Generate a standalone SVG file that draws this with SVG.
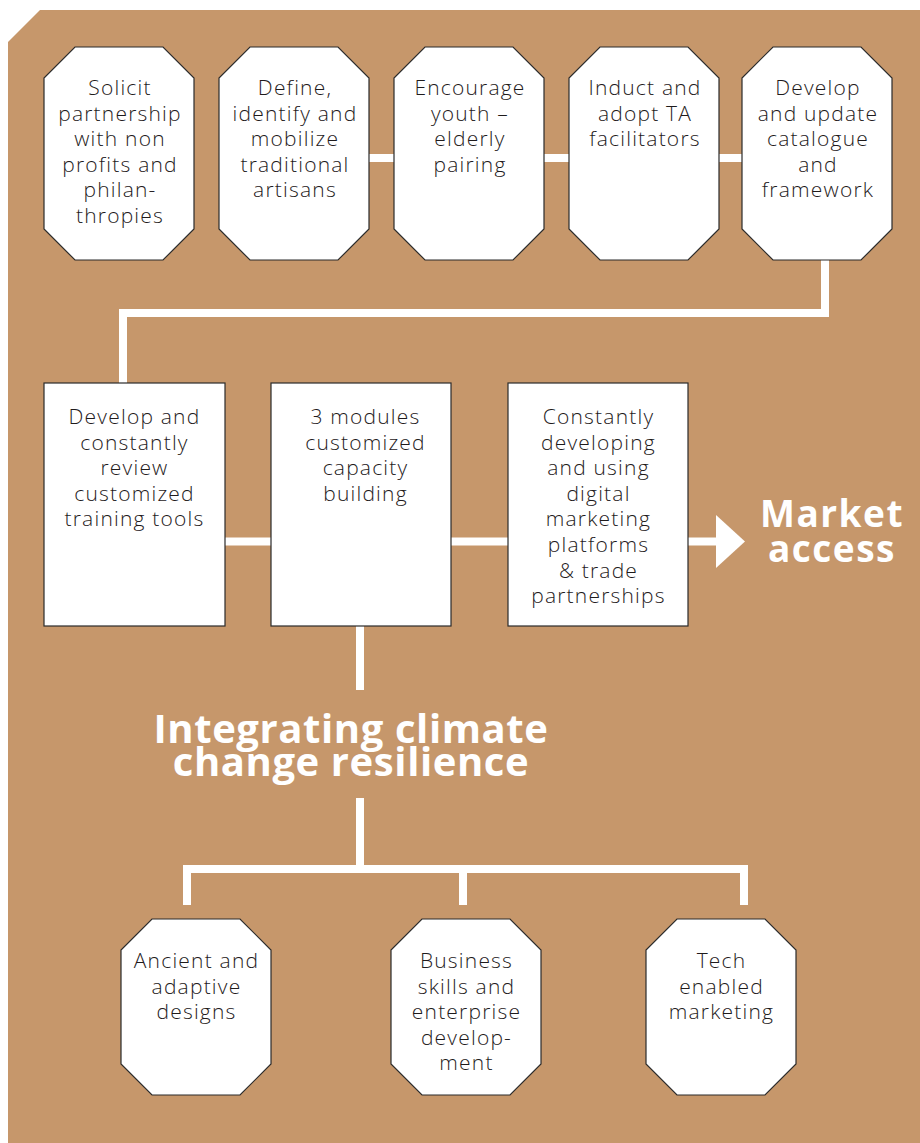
<svg xmlns="http://www.w3.org/2000/svg" width="920" height="1143" viewBox="0 0 920 1143">
<style>
.bg{fill:#C6976B}
.node{fill:#ffffff;stroke:#2b2b2b;stroke-width:1.2}
.t{font-family:"Open Sans","Liberation Sans",sans-serif;font-weight:300;font-size:21px;fill:#1f1b1c;text-anchor:middle;letter-spacing:1.2px}
.big{font-family:"Open Sans","Liberation Sans",sans-serif;font-weight:bold;fill:#ffffff;text-anchor:middle}
.c{stroke:#ffffff;stroke-width:8;fill:none;stroke-linecap:butt;stroke-linejoin:miter}
</style>
<rect width="920" height="1143" fill="#ffffff"/>
<polygon class="bg" points="8,42 40,10 920,10 920,1143 8,1143"/>

<g id="connectors">
<line class="c" x1="369" y1="158" x2="394" y2="158"/>
<line class="c" x1="544" y1="158" x2="569" y2="158"/>
<line class="c" x1="719" y1="158" x2="742" y2="158"/>
<polyline class="c" points="825,260 825,313 123,313 123,383"/>
<line class="c" x1="225" y1="541.5" x2="271" y2="541.5"/>
<line class="c" x1="451" y1="541.5" x2="508" y2="541.5"/>
<line class="c" x1="688" y1="541.5" x2="718" y2="541.5"/>
<polygon fill="#ffffff" points="716,515 745,541.5 716,568"/>
<line class="c" x1="360" y1="626" x2="360" y2="690"/>
<line class="c" x1="360" y1="798" x2="360" y2="869"/>
<line class="c" x1="183" y1="869" x2="748" y2="869"/>
<line class="c" x1="187" y1="869" x2="187" y2="905"/>
<line class="c" x1="463" y1="869" x2="463" y2="905"/>
<line class="c" x1="744" y1="869" x2="744" y2="905"/>
</g>

<g id="n1">
<polygon class="node" points="75,47 163,47 194,78 194,229 163,260 75,260 44,229 44,78"/>
<text class="t"><tspan x="120" y="95">Solicit</tspan><tspan x="120" dy="25.6">partnership</tspan><tspan x="120" dy="25.6">with non</tspan><tspan x="120" dy="25.6">profits and</tspan><tspan x="120" dy="25.6">philan-</tspan><tspan x="120" dy="25.6">thropies</tspan></text>
</g>
<g id="n2">
<polygon class="node" points="250,47 338,47 369,78 369,229 338,260 250,260 219,229 219,78"/>
<text class="t"><tspan x="295" y="95">Define,</tspan><tspan x="295" dy="25.6">identify and</tspan><tspan x="295" dy="25.6">mobilize</tspan><tspan x="295" dy="25.6">traditional</tspan><tspan x="295" dy="25.6">artisans</tspan></text>
</g>
<g id="n3">
<polygon class="node" points="425,47 513,47 544,78 544,229 513,260 425,260 394,229 394,78"/>
<text class="t"><tspan x="470" y="95">Encourage</tspan><tspan x="470" dy="25.6">youth –</tspan><tspan x="470" dy="25.6">elderly</tspan><tspan x="470" dy="25.6">pairing</tspan></text>
</g>
<g id="n4">
<polygon class="node" points="600,47 688,47 719,78 719,229 688,260 600,260 569,229 569,78"/>
<text class="t"><tspan x="645" y="95">Induct and</tspan><tspan x="645" dy="25.6">adopt TA</tspan><tspan x="645" dy="25.6">facilitators</tspan></text>
</g>
<g id="n5">
<polygon class="node" points="773,47 861,47 892,78 892,229 861,260 773,260 742,229 742,78"/>
<text class="t"><tspan x="818" y="95">Develop</tspan><tspan x="818" dy="25.6">and update</tspan><tspan x="818" dy="25.6">catalogue</tspan><tspan x="818" dy="25.6">and</tspan><tspan x="818" dy="25.6">framework</tspan></text>
</g>

<g id="m1">
<rect class="node" x="44" y="383" width="181" height="243"/>
<text class="t"><tspan x="134.5" y="424">Develop and</tspan><tspan x="134.5" dy="25.6">constantly</tspan><tspan x="134.5" dy="25.6">review</tspan><tspan x="134.5" dy="25.6">customized</tspan><tspan x="134.5" dy="25.6">training tools</tspan></text>
</g>
<g id="m2">
<rect class="node" x="271" y="383" width="180" height="243"/>
<text class="t"><tspan x="365.5" y="424">3 modules</tspan><tspan x="365.5" dy="25.6">customized</tspan><tspan x="365.5" dy="25.6">capacity</tspan><tspan x="365.5" dy="25.6">building</tspan></text>
</g>
<g id="m3">
<rect class="node" x="508" y="383" width="180" height="243"/>
<text class="t"><tspan x="598.5" y="424">Constantly</tspan><tspan x="598.5" dy="25.6">developing</tspan><tspan x="598.5" dy="25.6">and using</tspan><tspan x="598.5" dy="25.6">digital</tspan><tspan x="598.5" dy="25.6">marketing</tspan><tspan x="598.5" dy="25.6">platforms</tspan><tspan x="598.5" dy="25.6">&amp; trade</tspan><tspan x="598.5" dy="25.6">partnerships</tspan></text>
</g>

<g id="market">
<text class="big" font-size="37" letter-spacing="1.5"><tspan x="832" y="527">Market</tspan><tspan x="832" y="562">access</tspan></text>
</g>
<g id="climate">
<text class="big" font-size="40" letter-spacing="0.6"><tspan x="351" y="743">Integrating climate</tspan><tspan x="351" y="776">change resilience</tspan></text>
</g>

<g id="b1">
<polygon class="node" points="152,919 240,919 271,950 271,1064 240,1095 152,1095 121,1064 121,950"/>
<text class="t"><tspan x="196.5" y="968">Ancient and</tspan><tspan x="196.5" dy="25.6">adaptive</tspan><tspan x="196.5" dy="25.6">designs</tspan></text>
</g>
<g id="b2">
<polygon class="node" points="422,919 510,919 541,950 541,1064 510,1095 422,1095 391,1064 391,950"/>
<text class="t"><tspan x="466.5" y="968">Business</tspan><tspan x="466.5" dy="25.6">skills and</tspan><tspan x="466.5" dy="25.6">enterprise</tspan><tspan x="466.5" dy="25.6">develop-</tspan><tspan x="466.5" dy="25.6">ment</tspan></text>
</g>
<g id="b3">
<polygon class="node" points="677,919 765,919 796,950 796,1064 765,1095 677,1095 646,1064 646,950"/>
<text class="t"><tspan x="721.5" y="968">Tech</tspan><tspan x="721.5" dy="25.6">enabled</tspan><tspan x="721.5" dy="25.6">marketing</tspan></text>
</g>
</svg>
